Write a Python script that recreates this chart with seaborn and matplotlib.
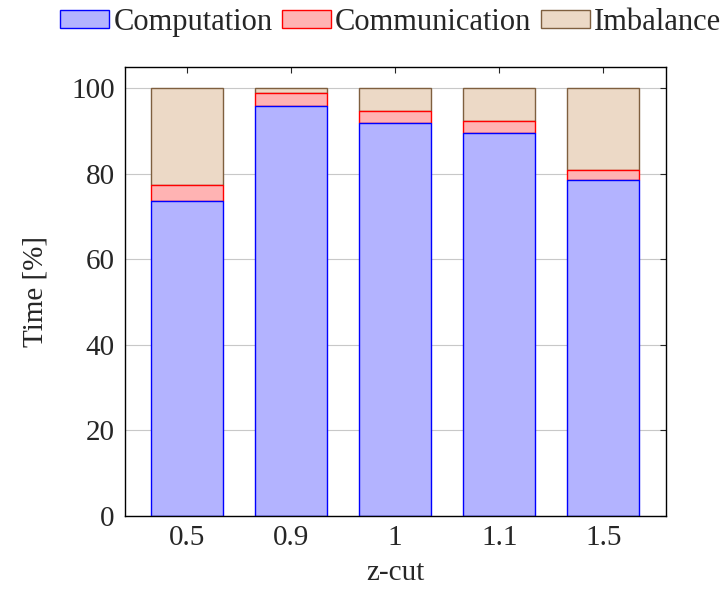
import numpy as np
import pandas as pd
import matplotlib
matplotlib.use("Agg")
import matplotlib.pyplot as plt
import seaborn as sns
from matplotlib.patches import Patch

# values (percent of run time)
ZCUT = ["0.5", "0.9", "1", "1.1", "1.5"]
COMPUTATION = [73.7, 95.8, 91.9, 89.6, 78.5]
COMMUNICATION = [3.6, 3.2, 2.7, 2.8, 2.3]
IMBALANCE = [22.7, 1.0, 5.4, 7.6, 19.2]

FILL = {"Computation": "#b3b3ff", "Communication": "#ffb3b3", "Imbalance": "#ecd9c6"}
EDGE = {"Computation": "#0000ff", "Communication": "#ff0000", "Imbalance": "#7f5f3f"}

df = pd.DataFrame({"z": ZCUT, "Computation": COMPUTATION,
                   "Communication": COMMUNICATION, "Imbalance": IMBALANCE})
df["base_comm"] = df["Computation"]
df["base_imb"] = df["Computation"] + df["Communication"]

sns.set_style("white")
plt.rcParams["font.family"] = ["Liberation Serif", "DejaVu Serif"]
FS = 21

fig = plt.figure(figsize=(7.26, 5.89), dpi=100)
ax = fig.add_axes([0.1715, 0.1245, 0.9170 - 0.1715, 0.8862 - 0.1245])

# stacked segments, top layer first so lower edges sit on top
layers = [("Imbalance", "base_imb"), ("Communication", "base_comm"), ("Computation", None)]
for key, base in layers:
    bottom = df[base].to_numpy() if base else np.zeros(len(df))
    sns.barplot(data=df, x="z", y=key, order=ZCUT, ax=ax, color=FILL[key],
                edgecolor=EDGE[key], linewidth=1.0, width=0.69, saturation=1,
                bottom=bottom)

ax.set_xlim(-0.6, 4.6)
ax.set_ylim(0, 105)
ax.set_yticks([0, 20, 40, 60, 80, 100])
ax.yaxis.grid(True, color="#c8c8c8", lw=0.8)
ax.set_axisbelow(True)
ax.tick_params(axis="both", direction="in", length=4, top=True, right=True,
               labelsize=FS, pad=7)
for s in ax.spines.values():
    s.set_color("black"); s.set_linewidth(1.0)
ax.set_xlabel("z-cut", fontsize=FS, labelpad=6)
ax.set_ylabel("Time [%]", fontsize=FS, labelpad=16)

handles = [Patch(facecolor=FILL[k], edgecolor=EDGE[k], lw=1.0) for k in FILL]
fig.legend(handles, list(FILL), loc="center", bbox_to_anchor=(0.538, 0.962), ncol=3,
           frameon=False, fontsize=22, handlelength=1.6, handleheight=0.5,
           handletextpad=0.15, columnspacing=0.3, borderpad=0.1)

fig.savefig("out.png", dpi=100)
